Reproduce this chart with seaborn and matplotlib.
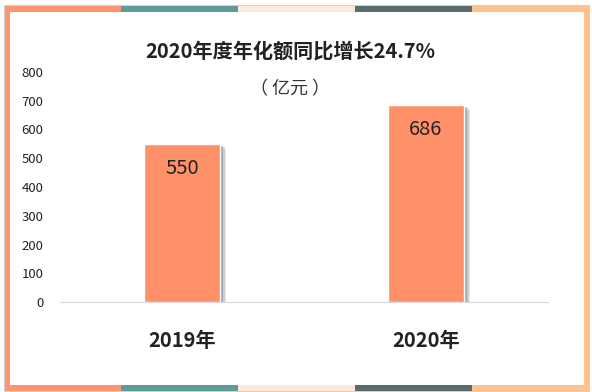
import matplotlib
matplotlib.use('Agg')
import matplotlib.pyplot as plt
import matplotlib.patheffects as pe
from matplotlib.patches import Rectangle
import pandas as pd
import seaborn as sns

years = ['2019年', '2020年']
amounts = [550, 686]
title = '2020年度年化额同比增长24.7%'
unit = '（ 亿元 ）'
y_ticks = [0, 100, 200, 300, 400, 500, 600, 700, 800]
frame_colors = ['#FF9470', '#5F9B98', '#FDE9DA', '#5B6C6C', '#FFC28E']

sns.set_style('white')
plt.rcParams['font.family'] = ['Noto Sans CJK SC', 'DejaVu Sans']

df = pd.DataFrame({'year': years, 'amount': amounts})

fig = plt.figure(figsize=(5.92, 3.92), dpi=100)
ax = fig.add_axes([60 / 592, 90 / 392, 488 / 592, 230 / 392])

sns.barplot(data=df, x='year', y='amount', color='#FF9169', saturation=1,
            width=0.31, ax=ax)
# soft drop shadow, a few layers to fake a blur
for bar in ax.patches:
    bar.set_path_effects([pe.SimplePatchShadow(offset=(4.5, -3.5), shadow_rgbFace='#999999', alpha=0.2),
                          pe.SimplePatchShadow(offset=(3.5, -2.5), shadow_rgbFace='#888888', alpha=0.3),
                          pe.SimplePatchShadow(offset=(2, -1.5), shadow_rgbFace='#777777', alpha=0.4),
                          pe.Normal()])
for bar, v in zip(ax.patches, amounts):
    ax.text(bar.get_x() + bar.get_width() / 2, v - 85, str(v), ha='center', va='center',
            fontsize=14.5, color='#222222')

ax.set_xlim(-0.5, 1.5)
ax.set_ylim(0, 800)
ax.set_yticks(y_ticks)
ax.tick_params(axis='y', labelsize=9.5, colors='#222222', length=0, pad=12)
ax.tick_params(axis='x', labelsize=14.5, colors='#222222', length=0, pad=20)
for lbl in ax.get_xticklabels():
    lbl.set_fontweight('bold')
ax.set_xlabel('')
ax.set_ylabel('')
for side in ['top', 'right', 'left']:
    ax.spines[side].set_visible(False)
ax.spines['bottom'].set_color('#D9D9D9')
ax.spines['bottom'].set_linewidth(0.8)

fig.text(290 / 592, 1 - 51 / 392, title, ha='center', va='center', fontsize=14.5,
         fontweight='bold', color='#222222')
fig.text(290 / 592, 1 - 89 / 392, unit, ha='center', va='center', fontsize=13,
         color='#333333')

# decorative frame
W, H = 592.0, 392.0
fig.patches.append(Rectangle((3.5 / W, 1 - 391 / H), 585 / W, 386 / H, transform=fig.transFigure,
                             fill=False, edgecolor='#D0D0D0', linewidth=0.8))
seg = 584 / 5.0
for i, c in enumerate(frame_colors):
    x0 = 4.5 + i * seg
    fig.patches.append(Rectangle((x0 / W, 1 - 11.5 / H), seg / W, 6 / H, transform=fig.transFigure,
                                 facecolor=c, edgecolor='none'))
    fig.patches.append(Rectangle((x0 / W, 1 - 391 / H), seg / W, 6 / H, transform=fig.transFigure,
                                 facecolor=c, edgecolor='none'))
fig.patches.append(Rectangle((4.5 / W, 1 - 391 / H), 5 / W, 385.5 / H, transform=fig.transFigure,
                             facecolor=frame_colors[0], edgecolor='none'))
fig.patches.append(Rectangle((583.5 / W, 1 - 391 / H), 5 / W, 385.5 / H, transform=fig.transFigure,
                             facecolor=frame_colors[-1], edgecolor='none'))

fig.savefig('out.png', dpi=100)
